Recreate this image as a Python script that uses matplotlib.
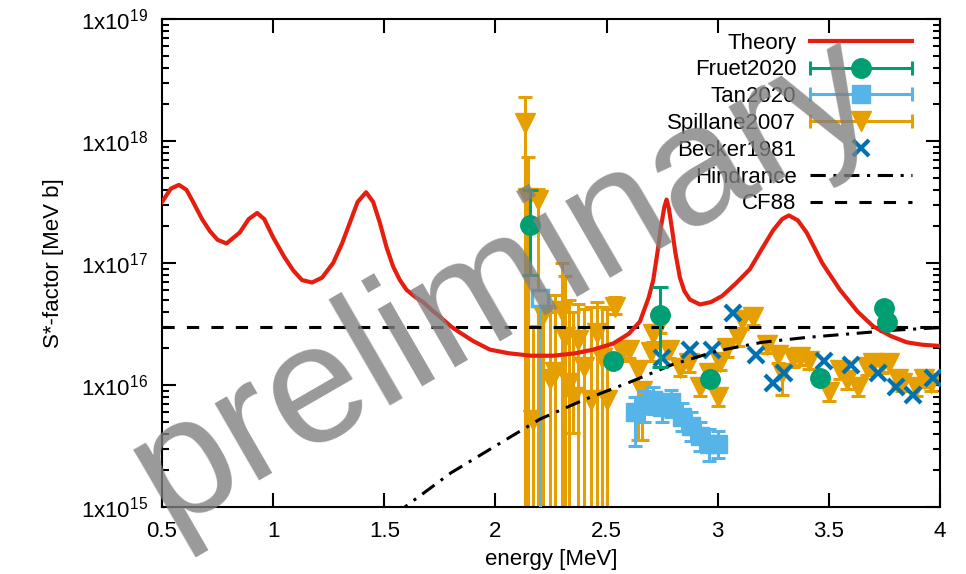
import numpy as np
import matplotlib
matplotlib.use('Agg')
import matplotlib.pyplot as plt
from matplotlib.lines import Line2D
from matplotlib.legend_handler import HandlerLine2D, HandlerTuple
from matplotlib.ticker import FixedLocator, NullFormatter, NullLocator

plt.rcParams['font.family'] = ['Liberation Sans', 'DejaVu Sans']
plt.rcParams['mathtext.default'] = 'regular'

# colours (gnuplot "podo" set)
RED = '#e51e10'
GREEN = '#009e73'
SKY = '#56b4e9'
ORANGE = '#e69f00'
BLUE = '#0072b2'

# ---- data (energies in MeV, S-factors as log10 of MeV b) ----
theory_x = [0.50, 0.54, 0.576, 0.61, 0.64, 0.68, 0.716, 0.75, 0.79, 0.85, 0.89, 0.928, 0.96,
            1.00, 1.05, 1.09, 1.13, 1.175, 1.22, 1.27, 1.31, 1.345, 1.38, 1.418, 1.45, 1.48,
            1.51, 1.54, 1.57, 1.60, 1.64, 1.675, 1.71, 1.75, 1.80, 1.84, 1.90, 1.975, 2.06,
            2.16, 2.26, 2.36, 2.44, 2.53, 2.60, 2.65, 2.69, 2.71, 2.73, 2.745, 2.76, 2.77,
            2.78, 2.795, 2.81, 2.83, 2.85, 2.875, 2.92, 2.97, 3.02, 3.08, 3.145, 3.20, 3.25,
            3.29, 3.32, 3.36, 3.40, 3.47, 3.55, 3.63, 3.70, 3.78, 3.85, 3.92, 4.00]
theory_log = [17.50, 17.61, 17.64, 17.60, 17.50, 17.36, 17.26, 17.19, 17.16, 17.25, 17.36, 17.41, 17.36,
              17.21, 17.05, 16.94, 16.86, 16.84, 16.88, 17.00, 17.16, 17.33, 17.50, 17.58, 17.50, 17.33,
              17.13, 16.97, 16.86, 16.78, 16.72, 16.68, 16.62, 16.56, 16.48, 16.43, 16.36, 16.29, 16.26,
              16.24, 16.24, 16.26, 16.29, 16.34, 16.42, 16.52, 16.72, 16.86, 17.10, 17.30, 17.46, 17.52,
              17.45, 17.27, 17.08, 16.88, 16.77, 16.70, 16.66, 16.68, 16.73, 16.83, 16.95, 17.12, 17.27,
              17.36, 17.39, 17.35, 17.25, 17.00, 16.78, 16.60, 16.48, 16.40, 16.35, 16.33, 16.32]

hind_x = [1.55, 1.60, 1.80, 2.00, 2.20, 2.40, 2.60, 2.80, 3.00, 3.20, 3.40, 3.60, 3.80, 4.00]
hind_log = [14.94, 15.01, 15.28, 15.50, 15.72, 15.88, 16.02, 16.17, 16.28, 16.35, 16.39, 16.42, 16.45, 16.47]

cf88_x = [0.5, 4.0]
cf88_log = [16.475, 16.475]

fruet_x = [2.155, 2.53, 2.74, 2.965, 3.46, 3.75, 3.76]
fruet_log = [17.31, 16.20, 16.57, 16.05, 16.06, 16.63, 16.52]
fruet_lo = [16.90, 16.17, 16.15, 16.02, 16.03, 16.60, 16.49]
fruet_hi = [17.60, 16.23, 16.80, 16.08, 16.09, 16.66, 16.55]

tan_open_x = [2.20]
tan_open_log = [16.71]
tan_open_lo = [14.0]

tan_x = [2.63, 2.67, 2.71, 2.75, 2.79, 2.84, 2.88, 2.92, 2.96, 3.00]
tan_log = [15.78, 15.84, 15.88, 15.82, 15.86, 15.74, 15.66, 15.58, 15.52, 15.52]
tan_lo = [15.50, 15.70, 15.76, 15.70, 15.74, 15.62, 15.54, 15.46, 15.38, 15.40]
tan_hi = [15.90, 15.95, 15.98, 15.93, 15.96, 15.85, 15.78, 15.70, 15.64, 15.62]

spil_x = [2.135, 2.145, 2.17, 2.19, 2.215, 2.245, 2.27, 2.30, 2.315, 2.33, 2.35, 2.37, 2.40,
          2.43, 2.455, 2.48, 2.50, 2.54,
          2.57, 2.60, 2.64, 2.66, 2.70, 2.71, 2.74, 2.78, 2.83, 2.87, 2.92, 2.96, 3.00, 3.01,
          3.04, 3.09, 3.11, 3.16, 3.22, 3.27, 3.29, 3.34, 3.37, 3.41, 3.50, 3.55, 3.58, 3.63,
          3.67, 3.70, 3.74, 3.77, 3.81, 3.83, 3.89, 3.93, 3.96]
spil_log = [18.15, 17.53, 15.71, 17.52, 16.57, 16.05, 16.11, 16.61, 16.39, 16.02, 15.90, 16.37, 16.15,
            15.88, 16.43, 16.22, 15.88, 16.64,
            16.27, 16.29, 16.12, 15.95, 16.27, 16.42, 16.50, 16.29, 16.14, 16.18, 15.98, 16.10, 15.90, 16.19,
            16.30, 16.39, 16.53, 16.56, 16.33, 16.25, 16.10, 16.22, 16.23, 16.20, 15.94, 16.12, 16.04, 15.98,
            16.15, 16.18, 16.17, 16.18, 16.05, 16.02, 15.98, 16.05, 16.02]
spil_lo = [14.0, 14.0, 14.0, 14.0, 14.0, 14.0, 14.0, 14.0, 14.0, 14.0, 15.61, 14.0, 14.0,
           14.0, 14.0, 14.0, 14.0, 16.58,
           16.20, 16.22, 15.55, 15.55, 16.20, 16.35, 16.43, 16.22, 16.07, 16.11, 15.91, 16.03, 15.83, 16.12,
           16.23, 16.32, 16.46, 16.49, 16.26, 16.18, 15.92, 16.15, 16.16, 16.13, 15.87, 16.05, 15.97, 15.91,
           16.08, 16.11, 16.10, 16.11, 15.98, 15.95, 15.91, 15.98, 15.95]
spil_hi = [18.36, 17.87, 16.48, 17.61, 16.72, 16.60, 16.74, 17.00, 16.89, 16.70, 16.60, 16.66, 16.62,
           16.64, 16.68, 16.64, 16.62, 16.72,
           16.34, 16.36, 16.19, 16.02, 16.34, 16.49, 16.57, 16.36, 16.21, 16.25, 16.05, 16.17, 15.97, 16.26,
           16.37, 16.46, 16.60, 16.63, 16.40, 16.32, 16.17, 16.29, 16.30, 16.27, 16.01, 16.19, 16.11, 16.05,
           16.22, 16.25, 16.24, 16.25, 16.12, 16.09, 16.05, 16.12, 16.09]

becker_x = [2.75, 2.875, 2.975, 3.07, 3.17, 3.25, 3.30, 3.48, 3.60, 3.72, 3.80, 3.88, 3.97]
becker_log = [16.22, 16.29, 16.29, 16.59, 16.25, 16.02, 16.10, 16.20, 16.16, 16.10, 15.98, 15.92, 16.06]

ytick_vals = [1e15, 1e16, 1e17, 1e18, 1e19]
ytick_labels = ['1x10$^{15}$', '1x10$^{16}$', '1x10$^{17}$', '1x10$^{18}$', '1x10$^{19}$']
xtick_vals = [0.5, 1, 1.5, 2, 2.5, 3, 3.5, 4]
xtick_labels = ['0.5', '1', '1.5', '2', '2.5', '3', '3.5', '4']


def p10(a):
    return 10.0 ** np.asarray(a, dtype=float)


def errs(val, lo, hi):
    v = p10(val)
    return [v - p10(lo), p10(hi) - v]


fig = plt.figure(figsize=(9.66, 5.74), dpi=100)
ax = fig.add_axes([162 / 966, 1 - 507 / 574, (940 - 162) / 966, (507 - 19) / 574])

# data sets
ax.errorbar(spil_x, p10(spil_log), yerr=errs(spil_log, spil_lo, spil_hi), fmt='v', color=ORANGE,
            ms=14, elinewidth=2.2, capsize=5, capthick=2.2, zorder=2)
ax.errorbar(tan_x, p10(tan_log), yerr=errs(tan_log, tan_lo, tan_hi), fmt='s', color=SKY,
            ms=13, elinewidth=2.2, capsize=5, capthick=2.2, zorder=2.5)
ax.errorbar(tan_open_x, p10(tan_open_log), yerr=errs(tan_open_log, tan_open_lo, tan_open_log),
            fmt='s', color=SKY, mfc='white', mew=2.5, ms=12, elinewidth=2.2, capsize=5,
            capthick=2.2, zorder=2.6)
ax.plot(becker_x, p10(becker_log), 'x', color=BLUE, ms=11, mew=3, zorder=3)

# curves
ax.plot(hind_x, p10(hind_log), color='black', lw=2.2, dashes=(5, 2.5, 1, 2.5), zorder=4)
ax.plot(cf88_x, p10(cf88_log), color='black', lw=2.2, dashes=(4, 4), zorder=4)
ax.plot(theory_x, p10(theory_log), color=RED, lw=3, zorder=4.5)

ax.errorbar(fruet_x, p10(fruet_log), yerr=errs(fruet_log, fruet_lo, fruet_hi), fmt='o', color=GREEN,
            ms=14, elinewidth=2.2, capsize=6, capthick=2.2, zorder=5)

ax.set_yscale('log')
ax.set_xlim(0.5, 4.0)
ax.set_ylim(1e15, 1e19)
ax.set_xticks(xtick_vals)
ax.set_xticklabels(xtick_labels)
ax.xaxis.set_minor_locator(NullLocator())
ax.yaxis.set_major_locator(FixedLocator(ytick_vals))
ax.set_yticklabels(ytick_labels)
ax.yaxis.set_minor_formatter(NullFormatter())
ax.tick_params(which='both', direction='in', top=True, right=True, labelsize=16, width=1.5)
ax.tick_params(which='major', length=10, pad=10)
ax.tick_params(which='minor', length=5)
for s in ax.spines.values():
    s.set_linewidth(1.5)

ax.set_xlabel('energy [MeV]', fontsize=16, labelpad=5)
ax.set_ylabel('S*-factor [MeV b]', fontsize=16, labelpad=12)

# legend in gnuplot style: text on the left, sample on the right
h_theory = Line2D([], [], color=RED, lw=3)
fr_line = Line2D([], [], color=GREEN, lw=2.2, marker='|', ms=10, mew=2.2)
fr_mark = Line2D([], [], color=GREEN, marker='o', ms=14, ls='none')
tn_line = Line2D([], [], color=SKY, lw=2.2, marker='|', ms=10, mew=2.2)
tn_mark = Line2D([], [], color=SKY, marker='s', ms=13, ls='none')
sp_line = Line2D([], [], color=ORANGE, lw=2.2, marker='|', ms=10, mew=2.2)
sp_mark = Line2D([], [], color=ORANGE, marker='v', ms=14, ls='none')
h_becker = Line2D([], [], color=BLUE, marker='x', ms=11, mew=3, ls='none')
h_hind = Line2D([], [], color='black', lw=2.2, dashes=(5, 2.5, 1, 2.5))
h_cf88 = Line2D([], [], color='black', lw=2.2, dashes=(4, 4))

ends = HandlerLine2D(numpoints=2, marker_pad=0)
mid = HandlerLine2D(numpoints=1)
hmap = {fr_line: ends, tn_line: ends, sp_line: ends,
        fr_mark: mid, tn_mark: mid, sp_mark: mid, h_becker: mid,
        tuple: HandlerTuple(ndivide=1)}

ax.legend([h_theory, (fr_line, fr_mark), (tn_line, tn_mark), (sp_line, sp_mark), h_becker, h_hind, h_cf88],
          ['Theory', 'Fruet2020', 'Tan2020', 'Spillane2007', 'Becker1981', 'Hindrance', 'CF88'],
          handler_map=hmap, loc='upper right', bbox_to_anchor=(0.964, 0.972), frameon=False,
          markerfirst=False, handlelength=4.6, handletextpad=0.6, labelspacing=0.26,
          borderpad=0, borderaxespad=0, fontsize=16)

# watermark
fig.text(0.522, 0.508, 'preliminary', fontsize=122, color='#808080', alpha=0.8,
         rotation=30, ha='center', va='center', zorder=10)

fig.savefig('out.png', dpi=100)
